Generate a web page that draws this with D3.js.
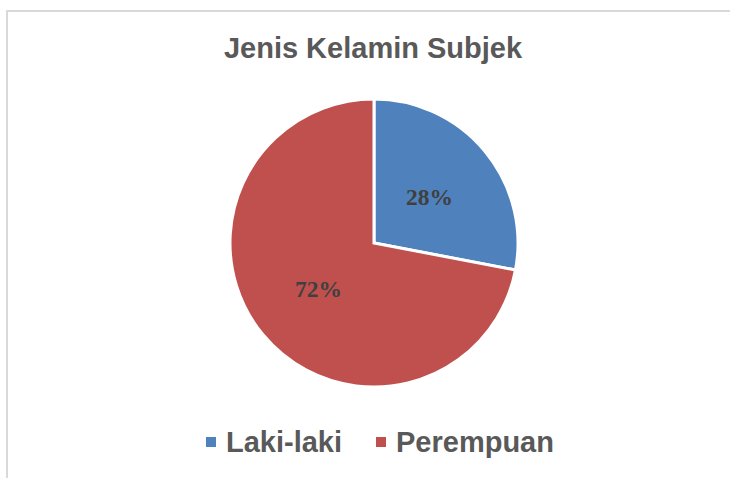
<!DOCTYPE html>
<html><head><meta charset="utf-8">
<script src="https://cdn.jsdelivr.net/npm/d3@7"></script>
<style>html,body{margin:0;padding:0;background:#fff;}svg{display:block;}</style>
</head><body>
<script>
const categories = ["Laki-laki", "Perempuan"];
const values = [28, 72];
const labels = ["28%", "72%"];
const colors = ["#4f81bd", "#c0504d"];
const title = "Jenis Kelamin Subjek";

const W = 730, H = 478;
const svg = d3.select("body").append("svg").attr("width", W).attr("height", H);
svg.append("rect").attr("width", W).attr("height", H).attr("fill", "#fff");
// frame lines
svg.append("line").attr("x1", 6).attr("x2", W).attr("y1", 11).attr("y2", 11).attr("stroke", "#d9d9d9").attr("stroke-width", 2);
svg.append("line").attr("x1", 7).attr("x2", 7).attr("y1", 10).attr("y2", H).attr("stroke", "#d9d9d9").attr("stroke-width", 2);

svg.append("text").attr("x", 373).attr("y", 58).attr("text-anchor", "middle")
  .attr("font-family", "Liberation Sans, Arial, sans-serif").attr("font-weight", "bold")
  .attr("font-size", 29).attr("fill", "#595959").text(title);

const cx = 374, cy = 243, R = 144;
const data = categories.map((c, i) => ({c, v: values[i], l: labels[i], col: colors[i]}));
const pie = d3.pie().value(d => d.v).sort(null);
const arc = d3.arc().innerRadius(0).outerRadius(R);
const labelArc = d3.arc().innerRadius(R * 0.5).outerRadius(R * 0.5);
const g = svg.append("g").attr("transform", `translate(${cx},${cy})`);
const arcs = pie(data);
g.selectAll("path").data(arcs).join("path").attr("d", arc)
  .attr("fill", d => d.data.col).attr("stroke", "#fff").attr("stroke-width", 3).attr("stroke-linejoin", "miter");
g.selectAll("text").data(arcs).join("text")
  .attr("transform", d => `translate(${labelArc.centroid(d)})`)
  .attr("text-anchor", "middle").attr("dy", "0.35em")
  .attr("font-family", "Liberation Serif, Times New Roman, serif").attr("font-weight", "bold")
  .attr("font-size", 23.5).attr("fill", "#404040").text(d => d.data.l);

// legend
const legX = [206, 376];
const lg = svg.append("g");
data.forEach((d, i) => {
  lg.append("rect").attr("x", legX[i]).attr("y", 437).attr("width", 10).attr("height", 10).attr("fill", d.col);
  lg.append("text").attr("x", legX[i] + 20).attr("y", 452)
    .attr("font-family", "Liberation Sans, Arial, sans-serif").attr("font-weight", "bold")
    .attr("font-size", 29).attr("fill", "#595959").text(d.c);
});
</script>
</body></html>
